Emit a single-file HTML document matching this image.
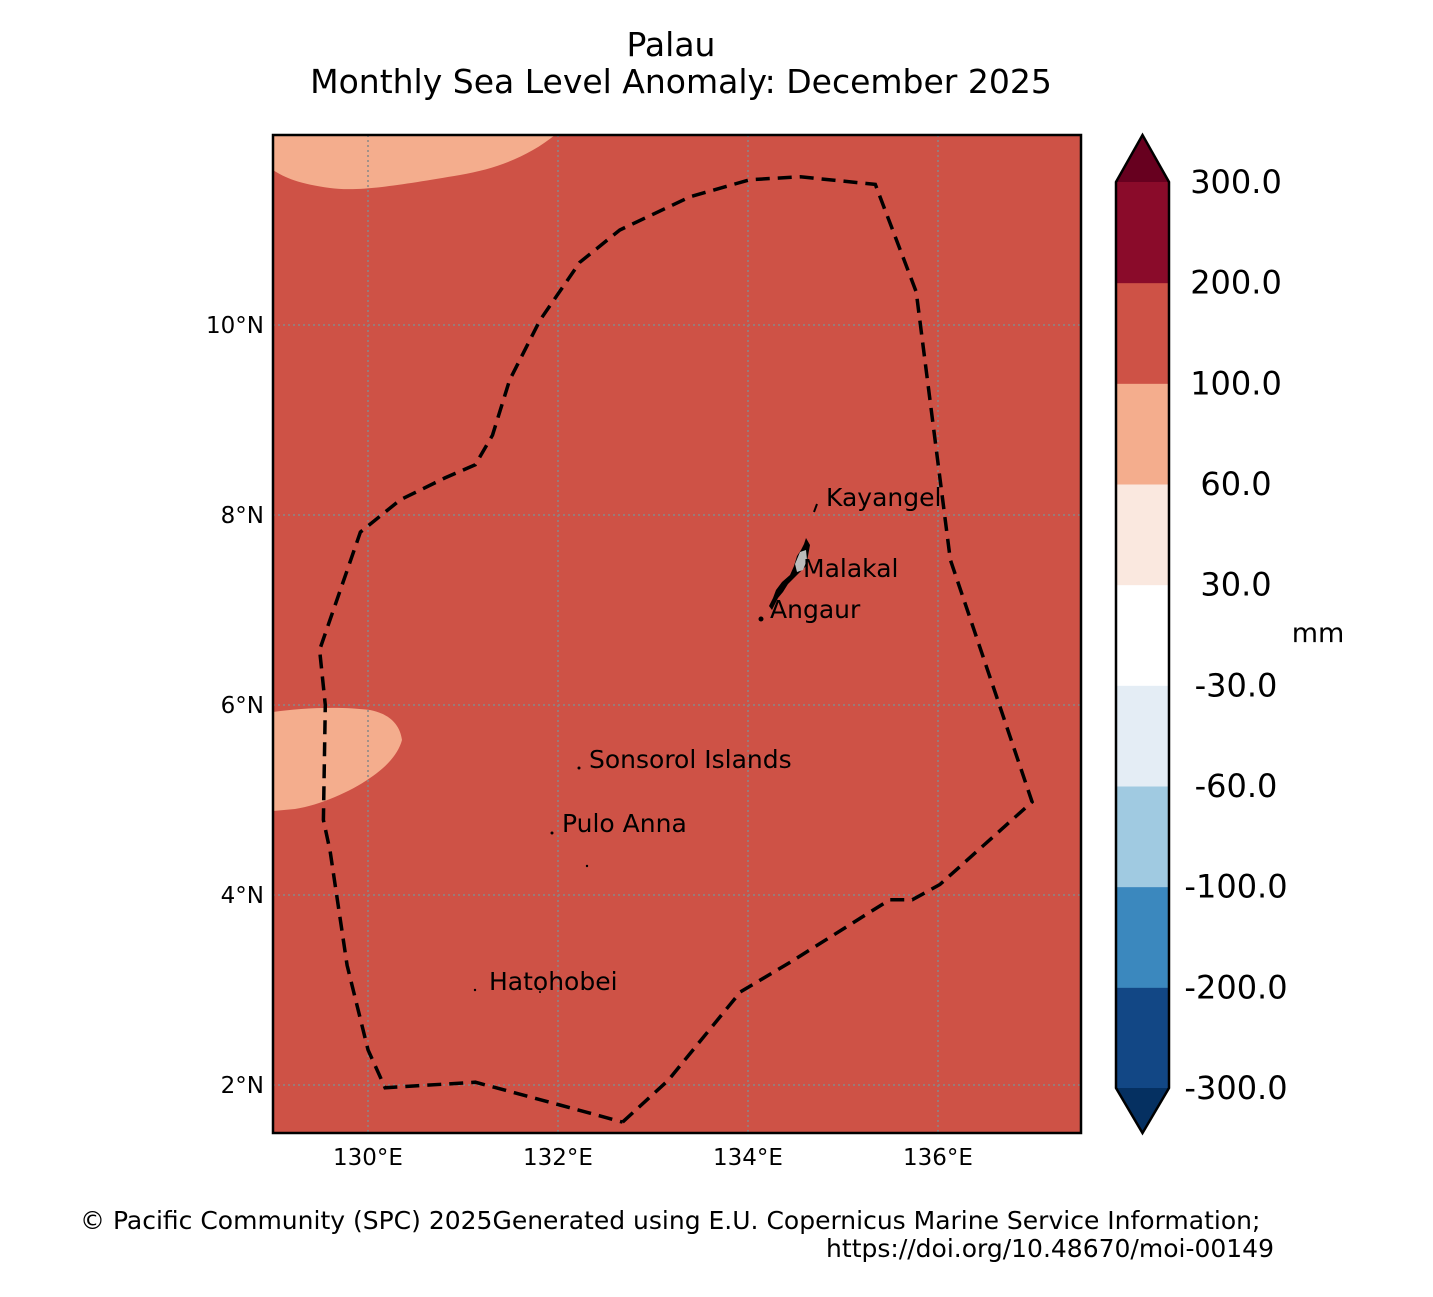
<!DOCTYPE html>
<html><head><meta charset="utf-8"><style>
body{margin:0;background:#fff;}
svg text{font-family:"DejaVu Sans","Liberation Sans",sans-serif;}
</style></head><body>
<svg id="chart" width="1433" height="1292" xmlns="http://www.w3.org/2000/svg">
<text x="671" y="56" font-size="33" text-anchor="middle">Palau</text>
<text x="681" y="93" font-size="33" text-anchor="middle">Monthly Sea Level Anomaly: December 2025</text>
<defs><clipPath id="mapclip"><rect x="273" y="135" width="808" height="998"/></clipPath></defs>
<rect x="273" y="135" width="808" height="998" fill="#ce5246"/>
<g clip-path="url(#mapclip)">
<path d="M273,135 L555,135 C530,155 500,168 460,175 C400,185 360,192 330,188 C300,184 285,178 273,170 Z" fill="#f4ad8d"/>
<path d="M273,712 C300,708 340,706 370,710 C390,714 400,725 402,740 C398,755 385,768 370,778 C350,792 320,805 295,809 L273,811 Z" fill="#f4ad8d"/>
<g id="grid"></g>
<path id="eez" fill="none" stroke="#000" stroke-width="3.5" stroke-dasharray="14,8"/>
<path d="M806,538 L810,545 L808,556 L806,566 L800,572 L794,578 L788,584 L783,592 L778,598 L775,604 L772,610 L769,606 L773,598 L776,590 L782,582 L790,575 L794,566 L797,556 L801,550 L804,544 Z" fill="#000"/>
<path d="M800,552 L806,550 L807,560 L803,570 L797,572 L795,564 Z" fill="#bbb"/>
<circle cx="761" cy="619" r="2.5" fill="#000"/>
<path d="M814,512 L817,504" stroke="#000" stroke-width="2"/>
<circle cx="579" cy="768" r="1.5" fill="#000"/><circle cx="552" cy="833" r="1.5" fill="#000"/>
<circle cx="587" cy="866" r="1.2" fill="#000"/><circle cx="475" cy="990" r="1.2" fill="#000"/><circle cx="540" cy="992" r="1" fill="#000"/>
</g>
<g font-size="25">
<text x="826" y="506">Kayangel</text>
<text x="803" y="577">Malakal</text>
<text x="770" y="618">Angaur</text>
<text x="589" y="768">Sonsorol Islands</text>
<text x="562" y="832">Pulo Anna</text>
<text x="489" y="990">Hatohobei</text>
</g>
<rect x="273" y="135" width="808" height="998" fill="none" stroke="#000" stroke-width="2.5"/>
<g id="axes" font-size="23"></g>
<g id="cbar"></g>
<text x="1318" y="642" font-size="27" text-anchor="middle">mm</text>
<text x="80" y="1229" font-size="25">© Pacific Community (SPC) 2025Generated using E.U. Copernicus Marine Service Information;</text>
<text x="1274" y="1257" font-size="25" text-anchor="end">https://doi.org/10.48670/moi-00149</text>
</svg>
<script>
const lonTicks=[130,132,134,136];
const latTicks=[2,4,6,8,10];
const eezLon=[132.68,133.16,133.92,134.44,135.49,135.73,136.02,136.99,136.13,135.77,135.34,134.55,134.02,133.39,132.65,132.23,131.81,131.49,131.31,131.13,130.81,130.34,129.92,129.49,129.55,129.53,129.6,129.78,130.0,130.18,131.13,132.02,132.68];
const eezLat=[1.61,2.05,2.98,3.29,3.95,3.95,4.11,4.98,7.53,10.35,11.48,11.56,11.53,11.35,11.0,10.66,10.05,9.42,8.84,8.53,8.39,8.16,7.82,6.58,6.0,4.79,4.47,3.26,2.37,1.97,2.03,1.79,1.61];
const cbarLevels=[-300,-200,-100,-60,-30,30,60,100,200,300];
const cbarLabels=["-300.0","-200.0","-100.0","-60.0","-30.0","30.0","60.0","100.0","200.0","300.0"];
const cbarColors=["#124785","#3b88be","#a0cae1","#e4edf5","#ffffff","#fae8df","#f4ad8d","#ce5246","#8a0b2a"];
const NS="http://www.w3.org/2000/svg";
const X=lon=>273+(lon-129)*95;
const Y=lat=>135+(12-lat)*95;
function mk(t,a,p){const e=document.createElementNS(NS,t);for(const k in a)e.setAttribute(k,a[k]);p.appendChild(e);return e;}
const grid=document.getElementById('grid'),axes=document.getElementById('axes');
lonTicks.forEach(v=>{const l=mk('line',{x1:X(v),x2:X(v),y1:135,y2:1133,stroke:'#888','stroke-width':1.5,'stroke-dasharray':'2,3'},grid);


const t=mk('text',{x:X(v),y:1165,'text-anchor':'middle'},axes);t.textContent=v+'°E';

});
latTicks.forEach(v=>{const l=mk('line',{x1:273,x2:1081,y1:Y(v),y2:Y(v),stroke:'#888','stroke-width':1.5,'stroke-dasharray':'2,3'},grid);


const t=mk('text',{x:264,y:Y(v)+8,'text-anchor':'end'},axes);t.textContent=v+'°N';

});
document.getElementById('eez').setAttribute('d',eezLon.map((v,i)=>(i?'L':'M')+X(v).toFixed(1)+','+Y(eezLat[i]).toFixed(1)).join(' '));
const cb=document.getElementById('cbar');const cbTop=182,cbBot=1088,nSeg=cbarColors.length,segH=(cbBot-cbTop)/nSeg;
const CY=i=>cbBot-i*segH;
cbarColors.forEach((c,i)=>{const r=mk('rect',{x:1116,y:CY(i+1),width:53,height:segH+0.5,fill:c},cb);

});
const tu=mk('path',{d:'M1116,182 L1142.5,135 L1169,182 Z',fill:'#67001f'},cb);


const td=mk('path',{d:'M1116,1088 L1142.5,1133 L1169,1088 Z',fill:'#053061'},cb);


mk('path',{d:'M1116,182 L1142.5,135 L1169,182 L1169,1088 L1142.5,1133 L1116,1088 Z',fill:'none',stroke:'#000','stroke-width':2.5},cb);
cbarLevels.forEach((v,i)=>{const t=mk('text',{x:1236,y:CY(i)+11,'font-size':32,'text-anchor':'middle'},cb);t.textContent=cbarLabels[i];

});
</script>
</body></html>
